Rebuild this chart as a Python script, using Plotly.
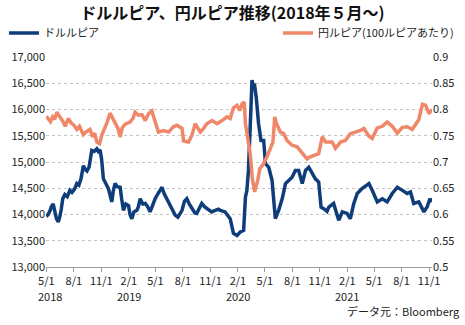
import plotly.graph_objects as go

# USD/IDR (left axis)
usd_dates = [
    "2018-05-01", "2018-05-07", "2018-05-14", "2018-05-18", "2018-05-24", "2018-05-29",
    "2018-06-04", "2018-06-10", "2018-06-15", "2018-06-20", "2018-06-25", "2018-07-02",
    "2018-07-10", "2018-07-19", "2018-07-26", "2018-08-03", "2018-08-11", "2018-08-18",
    "2018-08-25", "2018-09-02", "2018-09-08", "2018-09-14", "2018-09-21", "2018-09-30",
    "2018-10-08", "2018-10-17", "2018-10-22", "2018-10-28", "2018-11-02", "2018-11-08",
    "2018-11-15", "2018-11-25", "2018-12-01", "2018-12-06", "2018-12-11", "2018-12-17",
    "2018-12-24", "2019-01-03", "2019-01-08", "2019-01-14", "2019-01-22", "2019-01-31",
    "2019-02-05", "2019-02-11", "2019-02-18", "2019-02-28", "2019-03-05", "2019-03-11",
    "2019-03-20", "2019-03-28", "2019-04-05", "2019-04-13", "2019-04-20", "2019-04-30",
    "2019-05-10", "2019-05-23", "2019-05-30", "2019-06-08", "2019-06-19", "2019-06-28",
    "2019-07-06", "2019-07-15", "2019-07-29", "2019-08-06", "2019-08-14", "2019-08-22",
    "2019-08-31", "2019-09-10", "2019-09-16", "2019-10-03", "2019-10-12", "2019-10-26",
    "2019-11-05", "2019-11-17", "2019-11-28", "2019-12-04", "2019-12-20", "2020-01-06",
    "2020-01-17", "2020-01-29", "2020-02-09", "2020-02-20", "2020-02-26", "2020-03-02",
    "2020-03-07", "2020-03-13", "2020-03-19", "2020-03-23", "2020-03-27", "2020-04-02",
    "2020-04-10", "2020-04-18", "2020-04-27", "2020-05-03", "2020-05-14", "2020-05-25",
    "2020-05-30", "2020-06-05", "2020-06-16", "2020-06-28", "2020-07-09", "2020-07-20",
    "2020-07-31", "2020-08-11", "2020-08-22", "2020-09-03", "2020-09-14", "2020-09-25",
    "2020-10-06", "2020-10-17", "2020-10-28", "2020-11-05", "2020-11-14", "2020-11-25",
    "2020-12-01", "2020-12-17", "2021-01-03", "2021-01-15", "2021-01-31", "2021-02-11",
    "2021-02-22", "2021-03-06", "2021-03-23", "2021-04-14", "2021-04-25", "2021-05-12",
    "2021-05-29", "2021-06-14", "2021-07-01", "2021-07-18", "2021-08-04", "2021-08-20",
    "2021-08-31", "2021-09-11", "2021-09-28", "2021-10-15", "2021-10-26", "2021-11-04",
    "2021-11-11",
]
usd_idr = [
    13960, 14000, 14080, 14150, 14200, 14050,
    13920, 13860, 13950, 14100, 14300, 14380,
    14340, 14460, 14420, 14480, 14590, 14560,
    14680, 14930, 14860, 14830, 14900, 15220,
    15200, 15250, 15200, 15230, 15050, 14680,
    14600, 14490, 14350, 14240, 14450, 14590,
    14530, 14520, 14300, 14080, 14200, 14170,
    14000, 13920, 14050, 14080, 14150, 14300,
    14200, 14210, 14150, 14050, 14150, 14300,
    14400, 14520, 14400, 14300, 14210, 14100,
    13990, 13950, 14080, 14250, 14300, 14200,
    14110, 14030, 14020, 14210, 14150, 14080,
    14050, 14080, 14100, 14080, 14050, 13920,
    13640, 13600, 13670, 13700, 14330, 14460,
    14840, 15670, 16560, 16450, 16490, 16240,
    15730, 15410, 15410, 14970, 14900, 14650,
    14210, 13920, 14080, 14300, 14590, 14650,
    14710, 14840, 14840, 14590, 14840, 14900,
    14780, 14680, 14620, 14140, 14110, 14060,
    14140, 14210, 13890, 14050, 14020, 13920,
    14200, 14400, 14500, 14590, 14460, 14240,
    14300, 14240, 14400, 14520, 14460, 14400,
    14430, 14210, 14240, 14050, 14150, 14300,
    14240,
]

# JPY per 100 IDR (right axis)
jpy_dates = [
    "2018-05-01", "2018-05-08", "2018-05-15", "2018-05-22", "2018-05-29", "2018-06-05",
    "2018-06-12", "2018-06-20", "2018-06-27", "2018-07-03", "2018-07-14", "2018-07-22",
    "2018-08-01", "2018-08-11", "2018-08-20", "2018-09-02", "2018-09-10", "2018-09-24",
    "2018-10-03", "2018-10-10", "2018-10-17", "2018-10-26", "2018-11-03", "2018-11-10",
    "2018-11-20", "2018-11-30", "2018-12-07", "2018-12-17", "2018-12-26", "2019-01-03",
    "2019-01-10", "2019-01-20", "2019-02-05", "2019-02-15", "2019-02-22", "2019-03-05",
    "2019-03-17", "2019-03-28", "2019-04-08", "2019-04-19", "2019-04-30", "2019-05-11",
    "2019-05-28", "2019-06-14", "2019-06-30", "2019-07-12", "2019-07-29", "2019-08-03",
    "2019-08-20", "2019-08-31", "2019-09-11", "2019-09-28", "2019-10-09", "2019-10-20",
    "2019-11-06", "2019-11-23", "2019-12-10", "2019-12-26", "2020-01-06", "2020-01-17",
    "2020-01-29", "2020-02-07", "2020-02-15", "2020-02-22", "2020-02-26", "2020-03-04",
    "2020-03-13", "2020-03-20", "2020-03-28", "2020-04-02", "2020-04-07", "2020-04-14",
    "2020-04-27", "2020-05-08", "2020-05-19", "2020-05-28", "2020-06-03", "2020-06-09",
    "2020-06-22", "2020-07-03", "2020-07-14", "2020-07-31", "2020-08-17", "2020-08-28",
    "2020-09-08", "2020-09-19", "2020-09-30", "2020-10-17", "2020-10-28", "2020-11-09",
    "2020-11-20", "2020-12-12", "2020-12-23", "2021-01-09", "2021-01-25", "2021-02-11",
    "2021-02-28", "2021-03-17", "2021-03-28", "2021-04-14", "2021-04-25", "2021-05-12",
    "2021-05-29", "2021-06-14", "2021-07-01", "2021-07-18", "2021-08-04", "2021-08-20",
    "2021-09-06", "2021-09-17", "2021-09-28", "2021-10-10", "2021-10-21", "2021-11-01",
    "2021-11-11",
]
jpy_idr = [
    0.787, 0.781, 0.777, 0.786, 0.781, 0.795,
    0.790, 0.782, 0.776, 0.768, 0.783, 0.775,
    0.770, 0.762, 0.768, 0.752, 0.757, 0.762,
    0.748, 0.755, 0.738, 0.735, 0.752, 0.760,
    0.775, 0.793, 0.785, 0.776, 0.765, 0.748,
    0.765, 0.772, 0.776, 0.783, 0.795, 0.789,
    0.790, 0.779, 0.792, 0.797, 0.777, 0.757,
    0.760, 0.757, 0.767, 0.770, 0.764, 0.740,
    0.738, 0.751, 0.773, 0.757, 0.764, 0.773,
    0.779, 0.773, 0.779, 0.786, 0.783, 0.803,
    0.808, 0.798, 0.811, 0.814, 0.773, 0.748,
    0.716, 0.668, 0.643, 0.655, 0.664, 0.687,
    0.697, 0.710, 0.726, 0.738, 0.786, 0.773,
    0.757, 0.754, 0.741, 0.732, 0.729, 0.722,
    0.713, 0.706, 0.710, 0.713, 0.716, 0.748,
    0.738, 0.738, 0.726, 0.738, 0.741, 0.754,
    0.757, 0.760, 0.764, 0.749, 0.745, 0.765,
    0.768, 0.776, 0.768, 0.755, 0.766, 0.767,
    0.762, 0.771, 0.781, 0.810, 0.808, 0.792,
    0.800,
]

# x-axis ticks (quarterly)
tick_dates = [
    "2018-05-01", "2018-08-01", "2018-11-01", "2019-02-01", "2019-05-01",
    "2019-08-01", "2019-11-01", "2020-02-01", "2020-05-01", "2020-08-01",
    "2020-11-01", "2021-02-01", "2021-05-01", "2021-08-01", "2021-11-01",
]
tick_labels = [
    "5/1", "8/1", "11/1", "2/1", "5/1",
    "8/1", "11/1", "2/1", "5/1", "8/1",
    "11/1", "2/1", "5/1", "8/1", "11/1",
]
# year captions, placed under the first tick of each year
year_dates = ["2018-05-01", "2019-02-01", "2020-02-01", "2021-02-01"]
year_labels = ["2018", "2019", "2020", "2021"]

NAVY = "#0f3d7a"
ORANGE = "#f08769"
FONT = "Noto Sans CJK JP"
W, H = 465, 325

fig = go.Figure()
fig.add_trace(go.Scatter(
    x=usd_dates, y=usd_idr, name="ドルルピア", mode="lines",
    line=dict(color=NAVY, width=3.5), legend="legend", yaxis="y",
    showlegend=True,
))
fig.add_trace(go.Scatter(
    x=jpy_dates, y=jpy_idr, name="円ルピア(100ルピアあたり)", mode="lines",
    line=dict(color=ORANGE, width=3.5), legend="legend2", yaxis="y2",
    showlegend=True,
))

legend_style = dict(
    xref="container", yref="container", y=1 - 33 / H, yanchor="middle",
    bgcolor="rgba(0,0,0,0)", font=dict(family=FONT, size=11, color="#222"),
    itemwidth=30, visible=True,
)

annotations = [
    dict(
        text=lab, x=d, xref="x", y=-0.14, yref="paper",
        xanchor="center", yanchor="middle", showarrow=False,
        xshift=4 if i == 0 else 0,
        font=dict(size=11, color="#222"),
    )
    for i, (d, lab) in enumerate(zip(year_dates, year_labels))
]
annotations.append(dict(
    text="データ元：Bloomberg", xref="paper", yref="paper",
    x=1.078, y=-0.21, xanchor="right", yanchor="middle",
    showarrow=False, font=dict(size=11, color="#222"),
))

fig.update_layout(
    width=W, height=H,
    margin=dict(l=46, r=33, t=57, b=58, autoexpand=False),
    paper_bgcolor="white", plot_bgcolor="white",
    font=dict(family=FONT, size=11, color="#222"),
    showlegend=True,
    title=dict(
        text="<b>ドルルピア、円ルピア推移(2018年５月〜)</b>",
        x=0.5, xanchor="center", y=1 - 13 / H, yanchor="middle",
        font=dict(family=FONT, size=16, color="#111"),
    ),
    legend=dict(x=4 / W, xanchor="left", **legend_style),
    legend2=dict(x=459 / W, xanchor="right", **legend_style),
    xaxis=dict(
        type="date", range=["2018-04-30", "2021-11-11"],
        tickvals=tick_dates, ticktext=tick_labels, tickangle=0,
        showgrid=False, showline=True, linecolor="#9a9a9a", linewidth=1,
        ticks="outside", ticklen=4, tickcolor="#9a9a9a",
        tickfont=dict(size=11, color="#222"),
    ),
    yaxis=dict(
        range=[13000, 17000], dtick=500, tickformat=",",
        showgrid=True, gridcolor="#c4c4c4", griddash="dot", gridwidth=1,
        zeroline=False, showline=False,
        tickfont=dict(size=11, color="#222"),
    ),
    yaxis2=dict(
        range=[0.5, 0.9], dtick=0.05, overlaying="y", side="right",
        showgrid=False, zeroline=False, showline=False,
        tickfont=dict(size=11, color="#222"),
    ),
    annotations=annotations,
)

fig.write_html("out.html")
